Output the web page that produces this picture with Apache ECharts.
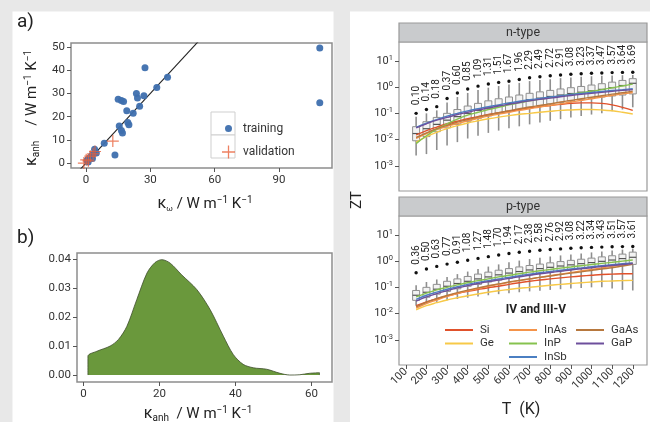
<!DOCTYPE html>
<html>
<head>
<meta charset="utf-8">
<script src="https://cdn.jsdelivr.net/npm/echarts@6/dist/echarts.min.js"></script>
<style>
  html, body { margin: 0; padding: 0; background: #e8e8e8; }
  #chart { width: 650px; height: 422px; }
</style>
</head>
<body>
<div id="chart"></div>
<script>
const FONT = "'Roboto', 'Liberation Sans', sans-serif";

// ---- a) anharmonic vs. phonon thermal conductivity ----
const trainingKw   = [109, 109, 27.5, 38, 33, 23.5, 24, 27, 15, 16.5, 17.5, 19, 25, 22, 15.5, 19.5, 20, 16.5, 17, 13.5, 8.5, 4, 4.8, 2, 0.7, 2.8, 1, 0.5, 1.5, 3];
const trainingKanh = [49.5, 26, 41, 37, 32.5, 30, 28, 29, 27.5, 27, 26.5, 22.5, 24.5, 21.5, 16, 17.5, 16.5, 14, 13, 3.5, 8.5, 6, 4.4, 2.5, 1.5, 3.5, 0.5, 1, 2, 2];
const validationKw   = [12.5, 4.2, 2, 0.1, -1, 1.1, 3.3];
const validationKanh = [9.5, 5, 3, 1.4, 0, 1, 4];
const identityEnds = [-10, 60];
const aTicksX = [0, 30, 60, 90];
const aTicksY = [0, 10, 20, 30, 40, 50];

// ---- b) distribution of kappa_anh ----
const densityKanh  = [1.15, 1.15, 3.5, 7.0, 9.2, 11.4, 14.0, 16.7, 18.8, 20.6, 22.8, 25.8, 29.8, 33.3, 36.8, 39.4, 42.0, 44.7, 48.2, 51.7, 54.3, 56.9, 59.5, 62.1, 62.1];
const densityValue = [0, 0.0065, 0.0082, 0.0100, 0.0123, 0.0168, 0.0260, 0.0352, 0.0388, 0.0398, 0.0386, 0.0346, 0.0295, 0.0226, 0.0134, 0.0071, 0.0037, 0.0025, 0.0020, 0.0006, 0.0000, 0.0001, 0.0006, 0.0008, 0];
const bTicksX = [0, 20, 40, 60];
const bTicksY = [0, 0.01, 0.02, 0.03, 0.04];

// ---- ZT vs temperature ----
const temperatures = [150, 200, 250, 300, 350, 400, 450, 500, 550, 600, 650, 700, 750, 800, 850, 900, 950, 1000, 1050, 1100, 1150, 1200];
const tempTicks = [100, 200, 300, 400, 500, 600, 700, 800, 900, 1000, 1100, 1200];
const ztDecades = [-3, -2, -1, 0, 1];

// n-type box statistics
const nLow = [0.0025, 0.0028, 0.004, 0.006, 0.008, 0.011, 0.014, 0.018, 0.022, 0.027, 0.032, 0.038, 0.045, 0.052, 0.06, 0.07, 0.08, 0.09, 0.1, 0.12, 0.14, 0.17];
const nQ1  = [0.009, 0.013, 0.02, 0.028, 0.038, 0.05, 0.065, 0.08, 0.1, 0.12, 0.14, 0.17, 0.2, 0.23, 0.26, 0.3, 0.34, 0.38, 0.42, 0.46, 0.5, 0.55];
const nMed = [0.017, 0.026, 0.038, 0.055, 0.075, 0.1, 0.13, 0.16, 0.2, 0.24, 0.28, 0.33, 0.38, 0.44, 0.5, 0.57, 0.64, 0.72, 0.82, 0.95, 1.15, 1.4];
const nQ3  = [0.031, 0.048, 0.07, 0.1, 0.14, 0.19, 0.24, 0.3, 0.36, 0.42, 0.5, 0.58, 0.66, 0.75, 0.85, 0.95, 1.06, 1.2, 1.35, 1.55, 1.8, 2.1];
const nHigh = [0.075, 0.1, 0.13, 0.26, 0.42, 0.6, 0.78, 0.95, 1.1, 1.25, 1.45, 1.7, 1.85, 2.0, 2.2, 2.35, 2.5, 2.6, 2.7, 2.8, 2.85, 2.9];
const nMax = [0.10, 0.14, 0.18, 0.37, 0.60, 0.85, 1.09, 1.31, 1.51, 1.67, 1.96, 2.29, 2.49, 2.72, 2.91, 3.08, 3.23, 3.37, 3.47, 3.57, 3.64, 3.69];

// p-type box statistics
const pLow = [0.02, 0.024, 0.028, 0.032, 0.036, 0.04, 0.045, 0.05, 0.055, 0.06, 0.065, 0.07, 0.075, 0.08, 0.085, 0.09, 0.095, 0.1, 0.1, 0.09, 0.08, 0.076];
const pQ1  = [0.032, 0.042, 0.055, 0.07, 0.088, 0.11, 0.13, 0.16, 0.19, 0.22, 0.26, 0.3, 0.34, 0.38, 0.43, 0.48, 0.53, 0.58, 0.63, 0.68, 0.72, 0.75];
const pMed = [0.05, 0.065, 0.085, 0.11, 0.14, 0.17, 0.21, 0.25, 0.3, 0.35, 0.4, 0.46, 0.52, 0.58, 0.65, 0.72, 0.8, 0.88, 0.98, 1.1, 1.25, 1.4];
const pQ3  = [0.076, 0.1, 0.13, 0.17, 0.21, 0.26, 0.32, 0.38, 0.45, 0.52, 0.6, 0.68, 0.77, 0.86, 0.96, 1.07, 1.18, 1.3, 1.45, 1.6, 1.85, 2.2];
const pHigh = [0.12, 0.16, 0.2, 0.25, 0.32, 0.4, 0.5, 0.62, 0.75, 0.9, 1.05, 1.2, 1.35, 1.5, 1.65, 1.8, 1.95, 2.15, 2.35, 2.55, 2.75, 2.95];
const pMax = [0.36, 0.50, 0.63, 0.77, 0.91, 1.08, 1.27, 1.48, 1.70, 1.94, 2.17, 2.38, 2.58, 2.76, 2.92, 3.08, 3.22, 3.34, 3.43, 3.51, 3.57, 3.61];

// reference compounds (IV and III-V)
const materials = ['Si', 'Ge', 'InAs', 'InP', 'InSb', 'GaAs', 'GaP'];
const materialColors = ['#e0512b', '#f7c948', '#f4934a', '#86c24f', '#4b7fc2', '#b7783e', '#6d4f9c'];
const nSi   = [0.015, 0.022, 0.03, 0.04, 0.05, 0.062, 0.075, 0.09, 0.105, 0.12, 0.14, 0.16, 0.18, 0.2, 0.22, 0.24, 0.25, 0.25, 0.24, 0.21, 0.17, 0.13];
const nGe   = [0.008, 0.013, 0.019, 0.026, 0.034, 0.043, 0.052, 0.062, 0.072, 0.082, 0.092, 0.10, 0.11, 0.12, 0.13, 0.135, 0.14, 0.14, 0.135, 0.125, 0.11, 0.095];
const nInAs = [0.011, 0.017, 0.024, 0.032, 0.041, 0.052, 0.064, 0.078, 0.093, 0.11, 0.13, 0.15, 0.175, 0.2, 0.23, 0.27, 0.31, 0.36, 0.42, 0.48, 0.55, 0.62];
const nInP  = [0.007, 0.014, 0.025, 0.04, 0.06, 0.085, 0.11, 0.14, 0.17, 0.21, 0.25, 0.3, 0.35, 0.4, 0.46, 0.53, 0.61, 0.7, 0.8, 0.95, 1.1, 1.3];
const nInSb = [0.029, 0.042, 0.058, 0.078, 0.10, 0.125, 0.15, 0.18, 0.21, 0.25, 0.29, 0.33, 0.37, 0.42, 0.47, 0.52, 0.57, 0.62, 0.68, 0.74, 0.80, 0.87];
const nGaAs = [0.012, 0.018, 0.026, 0.035, 0.046, 0.058, 0.072, 0.088, 0.105, 0.125, 0.15, 0.175, 0.2, 0.23, 0.27, 0.31, 0.36, 0.41, 0.47, 0.54, 0.61, 0.70];
const nGaP  = [0.028, 0.04, 0.055, 0.07, 0.09, 0.11, 0.135, 0.16, 0.19, 0.22, 0.26, 0.30, 0.34, 0.38, 0.43, 0.48, 0.53, 0.58, 0.63, 0.69, 0.75, 0.80];

const pSi   = [0.02, 0.028, 0.037, 0.047, 0.058, 0.07, 0.083, 0.097, 0.11, 0.13, 0.15, 0.17, 0.19, 0.21, 0.23, 0.25, 0.27, 0.29, 0.31, 0.32, 0.33, 0.33];
const pGe   = [0.014, 0.02, 0.026, 0.033, 0.04, 0.048, 0.056, 0.065, 0.074, 0.083, 0.093, 0.10, 0.11, 0.12, 0.13, 0.14, 0.15, 0.16, 0.17, 0.175, 0.18, 0.185];
const pInAs = [0.016, 0.024, 0.033, 0.045, 0.058, 0.073, 0.09, 0.11, 0.13, 0.155, 0.18, 0.21, 0.24, 0.28, 0.32, 0.37, 0.42, 0.48, 0.55, 0.63, 0.73, 0.85];
const pInP  = [0.043, 0.06, 0.08, 0.1, 0.125, 0.15, 0.18, 0.21, 0.25, 0.29, 0.33, 0.38, 0.43, 0.48, 0.54, 0.6, 0.67, 0.74, 0.82, 0.9, 1.0, 1.1];
const pInSb = [0.035, 0.05, 0.066, 0.085, 0.105, 0.13, 0.155, 0.18, 0.21, 0.24, 0.28, 0.32, 0.36, 0.4, 0.45, 0.5, 0.55, 0.61, 0.67, 0.73, 0.79, 0.85];
const pGaAs = [0.018, 0.027, 0.037, 0.049, 0.063, 0.078, 0.095, 0.115, 0.135, 0.16, 0.185, 0.21, 0.24, 0.27, 0.31, 0.35, 0.39, 0.44, 0.5, 0.56, 0.65, 0.75];
const pGaP  = [0.03, 0.043, 0.058, 0.075, 0.095, 0.117, 0.14, 0.165, 0.19, 0.22, 0.25, 0.29, 0.33, 0.37, 0.41, 0.46, 0.51, 0.56, 0.62, 0.68, 0.74, 0.80];

const nCurves = [nSi, nGe, nInAs, nInP, nInSb, nGaAs, nGaP];
const pCurves = [pSi, pGe, pInAs, pInP, pInSb, pGaAs, pGaP];

// ------------------------------------------------------------------
const lg = Math.log10;
const TXT = '#333';

function boxRows(lo, q1, md, q3, hi, mx) {
  return temperatures.map((t, i) => [t, lg(lo[i]), lg(q1[i]), lg(md[i]), lg(q3[i]), lg(hi[i]), lg(mx[i]), mx[i]]);
}

function renderBox(params, api) {
  const t = api.value(0);
  const P = k => api.coord([t, api.value(k)]);
  const lo = P(1), q1 = P(2), md = P(3), q3 = P(4), hi = P(5), mx = P(6);
  const x = lo[0];
  const w = 7;
  const grey = '#8f8f8f';
  return {
    type: 'group',
    children: [
      { type: 'line', shape: { x1: x, y1: hi[1], x2: x, y2: q3[1] }, style: { stroke: grey, lineWidth: 1.6 } },
      { type: 'line', shape: { x1: x, y1: q1[1], x2: x, y2: lo[1] }, style: { stroke: grey, lineWidth: 1.6 } },
      { type: 'rect', shape: { x: x - w / 2, y: q3[1], width: w, height: q1[1] - q3[1] }, style: { fill: '#f3f3f3', stroke: grey, lineWidth: 1 } },
      { type: 'line', shape: { x1: x - w / 2, y1: md[1], x2: x + w / 2, y2: md[1] }, style: { stroke: '#555', lineWidth: 1.2 } },
      { type: 'circle', shape: { cx: x, cy: mx[1], r: 1.7 }, style: { fill: '#111' } },
      { type: 'text', x: x, y: mx[1] - 8, rotation: Math.PI / 2,
        style: { text: api.value(7).toFixed(2), fill: '#222', fontSize: 10, fontFamily: FONT, align: 'left', verticalAlign: 'middle' } }
    ]
  };
}

const logLabel = {
  color: TXT, fontFamily: FONT, margin: 6,
  formatter: v => '{b|10}{s|' + v + '}',
  rich: { b: { fontSize: 11, lineHeight: 14, fontFamily: FONT, color: TXT },
          s: { fontSize: 7.5, lineHeight: 9, verticalAlign: 'top', fontFamily: FONT, color: TXT } }
};

const noLine = { show: false, onZero: false };
const plainTick = (vals) => ({ show: true, length: 4, customValues: vals, lineStyle: { color: '#555', width: 1 } });
const plainLabel = (vals, fmt) => ({ show: true, customValues: vals, color: TXT, fontSize: 11.5, fontFamily: FONT, margin: 6,
  formatter: fmt || (v => String(v)) });

const frame = { show: true, borderColor: '#8d8d8d', borderWidth: 1.5, backgroundColor: '#fff' };
const zFrame = { show: true, borderColor: '#999', borderWidth: 1.2, backgroundColor: '#fff' };

const series = [];

// panel a
series.push({ name: 'identity', type: 'line', xAxisIndex: 0, yAxisIndex: 0,
  data: identityEnds.map(v => [v, v]), showSymbol: false, clip: true,
  lineStyle: { color: '#222', width: 1.1 }, silent: true, z: 2 });
series.push({ name: 'training', type: 'scatter', xAxisIndex: 0, yAxisIndex: 0,
  data: trainingKw.map((v, i) => [v, trainingKanh[i]]), symbol: 'circle', symbolSize: 7,
  itemStyle: { color: '#3e6fae', opacity: 0.95 }, z: 3 });
const PLUS = 'path://M5.4,0H6.6V12H5.4Z M0,5.4H12V6.6H0Z';
series.push({ name: 'validation', type: 'scatter', xAxisIndex: 0, yAxisIndex: 0,
  data: validationKw.map((v, i) => [v, validationKanh[i]]), symbol: PLUS, symbolSize: 12,
  itemStyle: { color: '#e8603a' }, z: 4 });

// panel b
series.push({ name: 'density', type: 'line', xAxisIndex: 1, yAxisIndex: 1,
  data: densityKanh.map((v, i) => [v, densityValue[i]]), showSymbol: false, smooth: 0.3,
  lineStyle: { color: '#3d4d2c', width: 0.8 }, areaStyle: { color: '#6a983c', opacity: 1 } });

// ZT panels
series.push({ name: 'n-box', type: 'custom', xAxisIndex: 2, yAxisIndex: 2,
  data: boxRows(nLow, nQ1, nMed, nQ3, nHigh, nMax), renderItem: renderBox, z: 2 });
series.push({ name: 'p-box', type: 'custom', xAxisIndex: 3, yAxisIndex: 3,
  data: boxRows(pLow, pQ1, pMed, pQ3, pHigh, pMax), renderItem: renderBox, z: 2 });

materials.forEach((m, k) => {
  [[nCurves, 2], [pCurves, 3]].forEach(([curves, ax]) => {
    series.push({ name: m, type: 'line', xAxisIndex: ax, yAxisIndex: ax,
      data: temperatures.map((t, i) => [t, lg(curves[k][i])]), showSymbol: false, smooth: 0.4,
      lineStyle: { color: materialColors[k], width: 1.4 }, itemStyle: { color: materialColors[k] }, z: 5 });
  });
});

const legendCommon = {
  orient: 'vertical', icon: 'rect', itemWidth: 28, itemHeight: 2, itemGap: 1.5,
  selectedMode: false,
  textStyle: { fontSize: 11.5, fontFamily: FONT, color: TXT, lineHeight: 12, padding: [0, 0, 0, 2] }
};

const TRAIN_ICON = 'path://M0,0L0.01,0Z M13,13L12.99,13Z M3,6.5A3.5,3.5 0 1,0 10,6.5A3.5,3.5 0 1,0 3,6.5Z';

const richTitle = (subSize) => ({
  k: { fontSize: 16, lineHeight: 18, fontFamily: FONT, fill: '#222' },
  sub: { fontSize: subSize, lineHeight: 8, verticalAlign: 'bottom', fontFamily: FONT, fill: '#222' },
  t: { fontSize: 15, lineHeight: 18, fontFamily: FONT, fill: '#222' },
  sup: { fontSize: 10, lineHeight: 9, verticalAlign: 'top', fontFamily: FONT, fill: '#222' }
});

const option = {
  backgroundColor: '#e8e8e8',
  animation: false,
  textStyle: { fontFamily: FONT },
  grid: [
    Object.assign({ left: 71, top: 43, width: 261, height: 125 }, frame),
    Object.assign({ left: 77, top: 253, width: 255, height: 129 }, frame),
    Object.assign({ left: 399, top: 42, width: 248, height: 149 }, zFrame),
    Object.assign({ left: 399, top: 216, width: 248, height: 149 }, zFrame)
  ],
  xAxis: [
    { type: 'value', gridIndex: 0, min: -7, max: 114.7, splitLine: { show: false }, axisLine: noLine,
      axisTick: plainTick(aTicksX), axisLabel: plainLabel(aTicksX) },
    { type: 'value', gridIndex: 1, min: -1.73, max: 65.4, splitLine: { show: false }, axisLine: noLine,
      axisTick: plainTick(bTicksX), axisLabel: plainLabel(bTicksX) },
    { type: 'value', gridIndex: 2, min: 67, max: 1269, splitLine: { show: false }, axisLine: noLine,
      axisTick: { show: false }, axisLabel: { show: false } },
    { type: 'value', gridIndex: 3, min: 67, max: 1269, splitLine: { show: false }, axisLine: noLine,
      axisTick: plainTick(tempTicks),
      axisLabel: Object.assign(plainLabel(tempTicks), { rotate: 45, margin: 5, fontSize: 11 }) }
  ],
  yAxis: [
    { type: 'value', gridIndex: 0, min: -2.1, max: 51.7, splitLine: { show: false }, axisLine: noLine,
      axisTick: plainTick(aTicksY), axisLabel: plainLabel(aTicksY) },
    { type: 'value', gridIndex: 1, min: -0.0024, max: 0.0421, splitLine: { show: false }, axisLine: noLine,
      axisTick: plainTick(bTicksY), axisLabel: plainLabel(bTicksY, v => v.toFixed(2)) },
    { type: 'value', gridIndex: 2, min: -3.96, max: 1.72, splitLine: { show: false }, axisLine: noLine,
      axisTick: plainTick(ztDecades), axisLabel: Object.assign({ customValues: ztDecades }, logLabel) },
    { type: 'value', gridIndex: 3, min: -3.96, max: 1.72, splitLine: { show: false }, axisLine: noLine,
      axisTick: plainTick(ztDecades), axisLabel: Object.assign({ customValues: ztDecades }, logLabel) }
  ],
  legend: [
    { data: [{ name: 'training', icon: TRAIN_ICON }, { name: 'validation', icon: PLUS }],
      orient: 'vertical', left: 217, top: 117, itemWidth: 13, itemHeight: 13, itemGap: 10.5, selectedMode: false,
      textStyle: { fontSize: 12, fontFamily: FONT, color: TXT, padding: [0, 0, 0, 3] } },
    Object.assign({ data: ['Si', 'Ge'], left: 440, top: 319 }, legendCommon),
    Object.assign({ data: ['InAs', 'InP', 'InSb'], left: 504, top: 319 }, legendCommon),
    Object.assign({ data: ['GaAs', 'GaP'], left: 571, top: 319 }, legendCommon)
  ],
  graphic: [
    // cards
    { type: 'rect', z: -10, shape: { x: 12.5, y: 11.5, width: 321, height: 420 }, style: { fill: '#fff' } },
    { type: 'rect', z: -10, shape: { x: 350, y: 11.5, width: 310, height: 420 }, style: { fill: '#fff' } },
    // panel a legend keys
    { type: 'rect', z: 1, shape: { x: 211, y: 112, width: 24, height: 23 }, style: { fill: '#fff', stroke: '#cfcfcf', lineWidth: 1 } },
    { type: 'rect', z: 1, shape: { x: 211, y: 135, width: 24, height: 23 }, style: { fill: '#fff', stroke: '#cfcfcf', lineWidth: 1 } },
    // panel tags
    { type: 'text', x: 17, y: 13, style: { text: 'a)', fontSize: 19, fontFamily: FONT, fill: '#222' } },
    { type: 'text', x: 17, y: 229, style: { text: 'b)', fontSize: 19, fontFamily: FONT, fill: '#222' } },
    // panel a axis titles
    { type: 'text', x: 32, y: 108, rotation: Math.PI / 2,
      style: { text: '{k|κ}{sub|anh}{t|    / W m}{sup|−1}{t| K}{sup|−1}', align: 'center', verticalAlign: 'middle', rich: richTitle(10) } },
    { type: 'text', x: 205, y: 204,
      style: { text: '{k|κ}{sub|ω}{t| / W m}{sup|−1}{t| K}{sup|−1}', align: 'center', verticalAlign: 'middle', rich: richTitle(8) } },
    // panel b axis title
    { type: 'text', x: 198, y: 414,
      style: { text: '{k|κ}{sub|anh}{t|  / W m}{sup|−1}{t| K}{sup|−1}', align: 'center', verticalAlign: 'middle', rich: richTitle(10) } },
    // facet strips
    { type: 'rect', z: 1, shape: { x: 399, y: 23, width: 248, height: 19 }, style: { fill: '#c9cbcd', stroke: '#999', lineWidth: 1.2 } },
    { type: 'text', z: 2, x: 523, y: 32.5, style: { text: 'n-type', fontSize: 12.5, fontFamily: FONT, fill: '#333', align: 'center', verticalAlign: 'middle' } },
    { type: 'rect', z: 1, shape: { x: 399, y: 197, width: 248, height: 19 }, style: { fill: '#c9cbcd', stroke: '#999', lineWidth: 1.2 } },
    { type: 'text', z: 2, x: 523, y: 206.5, style: { text: 'p-type', fontSize: 12.5, fontFamily: FONT, fill: '#333', align: 'center', verticalAlign: 'middle' } },
    // shared axis titles
    { type: 'text', x: 357, y: 200, rotation: Math.PI / 2, style: { text: 'ZT', fontSize: 15, fontFamily: FONT, fill: '#222', align: 'center', verticalAlign: 'middle' } },
    { type: 'text', x: 521, y: 410, style: { text: 'T  (K)', fontSize: 16, fontFamily: FONT, fill: '#222', align: 'center', verticalAlign: 'middle' } },
    // legend heading
    { type: 'text', z: 10, x: 536, y: 310, style: { text: 'IV and III-V', fontSize: 12, fontWeight: 'bold', fontFamily: FONT, fill: '#222', align: 'center', verticalAlign: 'middle' } }
  ],
  series: series
};

const chart = echarts.init(document.getElementById('chart'), null, { renderer: 'canvas' });
chart.setOption(option);
</script>
</body>
</html>
